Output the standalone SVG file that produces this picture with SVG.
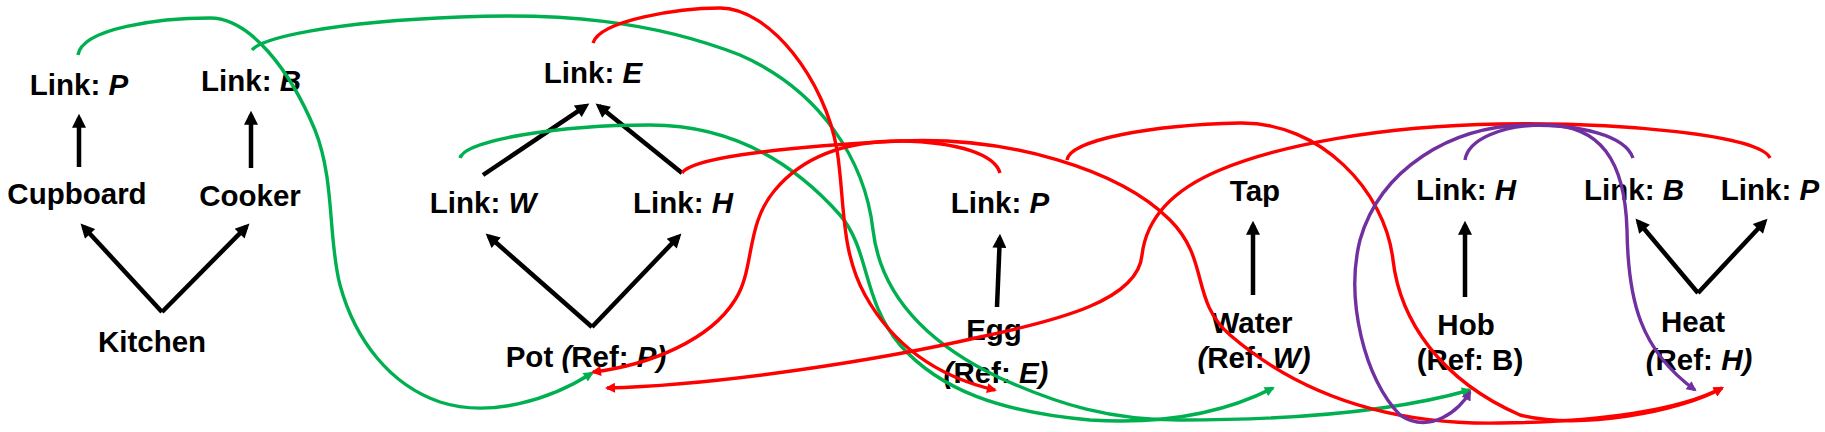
<svg xmlns="http://www.w3.org/2000/svg" width="1825" height="432" viewBox="0 0 1825 432">
<style>
text{font-family:"Liberation Sans",Arial,sans-serif;font-weight:bold;font-size:29.5px;fill:#000;text-anchor:middle}
.i{font-style:italic}
.blk{fill:none;stroke:#000;stroke-width:4.5;marker-end:url(#ab)}
.g{fill:none;stroke:#00b050;stroke-width:3.4;marker-end:url(#ag)}
.r{fill:none;stroke:#ff0000;stroke-width:3.4;marker-end:url(#ar)}
.p{fill:none;stroke:#7030a0;stroke-width:3.4;marker-end:url(#ap)}
</style>
<defs>
<marker id="ab" viewBox="0 0 10 10" refX="7" refY="5" markerWidth="16" markerHeight="14" markerUnits="userSpaceOnUse" orient="auto"><path d="M0,0 L10,5 L0,10 z" fill="#000"/></marker>
<marker id="ag" viewBox="0 0 10 10" refX="8" refY="5" markerWidth="13" markerHeight="10" markerUnits="userSpaceOnUse" orient="auto"><path d="M0,0 L10,5 L0,10 z" fill="#00b050"/></marker>
<marker id="ar" viewBox="0 0 10 10" refX="8" refY="5" markerWidth="13" markerHeight="10" markerUnits="userSpaceOnUse" orient="auto"><path d="M0,0 L10,5 L0,10 z" fill="#ff0000"/></marker>
<marker id="ap" viewBox="0 0 10 10" refX="8" refY="5" markerWidth="13" markerHeight="10" markerUnits="userSpaceOnUse" orient="auto"><path d="M0,0 L10,5 L0,10 z" fill="#7030a0"/></marker>
</defs>

<g id="kitchen-group">
<g id="n-kitchen-linkP"><text x="79" y="95">Link: <tspan class="i">P</tspan></text></g>
<g id="n-kitchen-linkB"><text x="251" y="91">Link: <tspan class="i">B</tspan></text></g>
<g id="n-cupboard"><text x="77" y="204">Cupboard</text></g>
<g id="n-cooker"><text x="250" y="206">Cooker</text></g>
<g id="n-kitchen"><text x="152" y="352">Kitchen</text></g>
</g>

<g id="pot-group">
<g id="n-pot-linkE"><text x="593" y="83">Link: <tspan class="i">E</tspan></text></g>
<g id="n-pot-linkW"><text x="483" y="213">Link: <tspan class="i">W</tspan></text></g>
<g id="n-pot-linkH"><text x="683" y="213">Link: <tspan class="i">H</tspan></text></g>
<g id="n-pot"><text x="586" y="367">Pot <tspan class="i">(</tspan>Ref: <tspan class="i">P)</tspan></text></g>
</g>

<g id="egg-group">
<g id="n-egg-linkP"><text x="1000" y="213">Link: <tspan class="i">P</tspan></text></g>
<g id="n-egg"><text x="994" y="340">Egg</text><text x="996" y="383"><tspan class="i">(</tspan>Ref: <tspan class="i">E)</tspan></text></g>
</g>

<g id="water-group">
<g id="n-tap"><text x="1255" y="201">Tap</text></g>
<g id="n-water"><text x="1252" y="333">Water</text><text x="1254" y="368"><tspan class="i">(</tspan>Ref: <tspan class="i">W)</tspan></text></g>
</g>

<g id="hob-group">
<g id="n-hob-linkH"><text x="1466" y="200">Link: <tspan class="i">H</tspan></text></g>
<g id="n-hob"><text x="1466" y="335">Hob</text><text x="1470" y="370">(Ref: B)</text></g>
</g>

<g id="heat-group">
<g id="n-heat-linkB"><text x="1634" y="200">Link: <tspan class="i">B</tspan></text></g>
<g id="n-heat-linkP"><text x="1770" y="200">Link: <tspan class="i">P</tspan></text></g>
<g id="n-heat"><text x="1693" y="332">Heat</text><text x="1699" y="370"><tspan class="i">(</tspan>Ref: <tspan class="i">H)</tspan></text></g>
</g>

<g id="connectors">
<path class="blk" d="M79,167 L79,118"/>
<path class="blk" d="M251,168 L251,115"/>
<path class="blk" d="M162,312 L83.4,226.7"/>
<path class="blk" d="M162,312 L246.5,226.6"/>
<path class="blk" d="M592,327 L488.8,236.3"/>
<path class="blk" d="M592,327 L678.5,236.6"/>
<path class="blk" d="M483,175 L585.9,105.8"/>
<path class="blk" d="M682,173 L598.9,106.1"/>
<path class="blk" d="M997,307 L999.8,238"/>
<path class="blk" d="M1253,295 L1253,225"/>
<path class="blk" d="M1465,297 L1465,225"/>
<path class="blk" d="M1698,293 L1638.2,221.8"/>
<path class="blk" d="M1698,293 L1764.6,221.7"/>

<path class="g" d="M78,55 C82,28 160,18 210,18 C250,18 290,70 315,130 C335,180 328,240 340,285 C355,340 390,385 440,402 C490,418 550,400 592,373"/>
<path class="g" d="M252,50 C262,38 330,22 460,17 C560,13 650,20 740,55 C820,90 865,160 873,230 C880,290 920,340 1000,378 C1060,405 1110,420 1180,420 C1300,420 1400,410 1470,390"/>
<path class="g" d="M460,158 C465,140 560,125 650,125 C740,125 800,170 840,215 C870,250 862,300 900,345 C940,390 1000,412 1090,420 C1170,425 1230,410 1273,388"/>

<path class="r" d="M593,43 C600,20 680,8 720,8 C770,8 825,80 837,150 C845,200 840,250 865,295 C890,340 930,375 995,390"/>
<path class="r" d="M682,173 C690,160 760,148 900,141 C1010,136 1120,170 1170,220 C1210,260 1190,300 1230,335 C1300,395 1390,425 1500,423 C1600,422 1680,410 1722,388"/>
<path class="r" d="M1067,160 C1070,140 1150,125 1240,123 C1320,122 1385,190 1393,260 C1400,320 1440,380 1520,415 C1580,430 1680,412 1722,388"/>
<path class="r" d="M1000,173 C995,155 960,142 900,141 C840,141 800,160 775,190 C745,225 755,270 735,300 C710,340 650,365 593,372"/>
<path class="r" d="M1770,158 C1760,135 1620,122 1500,124 C1380,126 1280,145 1220,170 C1160,195 1145,230 1142,255 C1138,300 1060,320 980,337 C880,360 720,385 607,388"/>

<path class="p" d="M1465,160 C1468,140 1500,125 1545,125 C1600,125 1625,160 1627,230 C1628,300 1640,350 1695,390"/>
<path class="p" d="M1633,158 C1625,135 1580,125 1530,125 C1450,125 1380,170 1360,240 C1345,300 1365,380 1400,415 C1430,435 1460,410 1470,392"/>
</g>
</svg>
